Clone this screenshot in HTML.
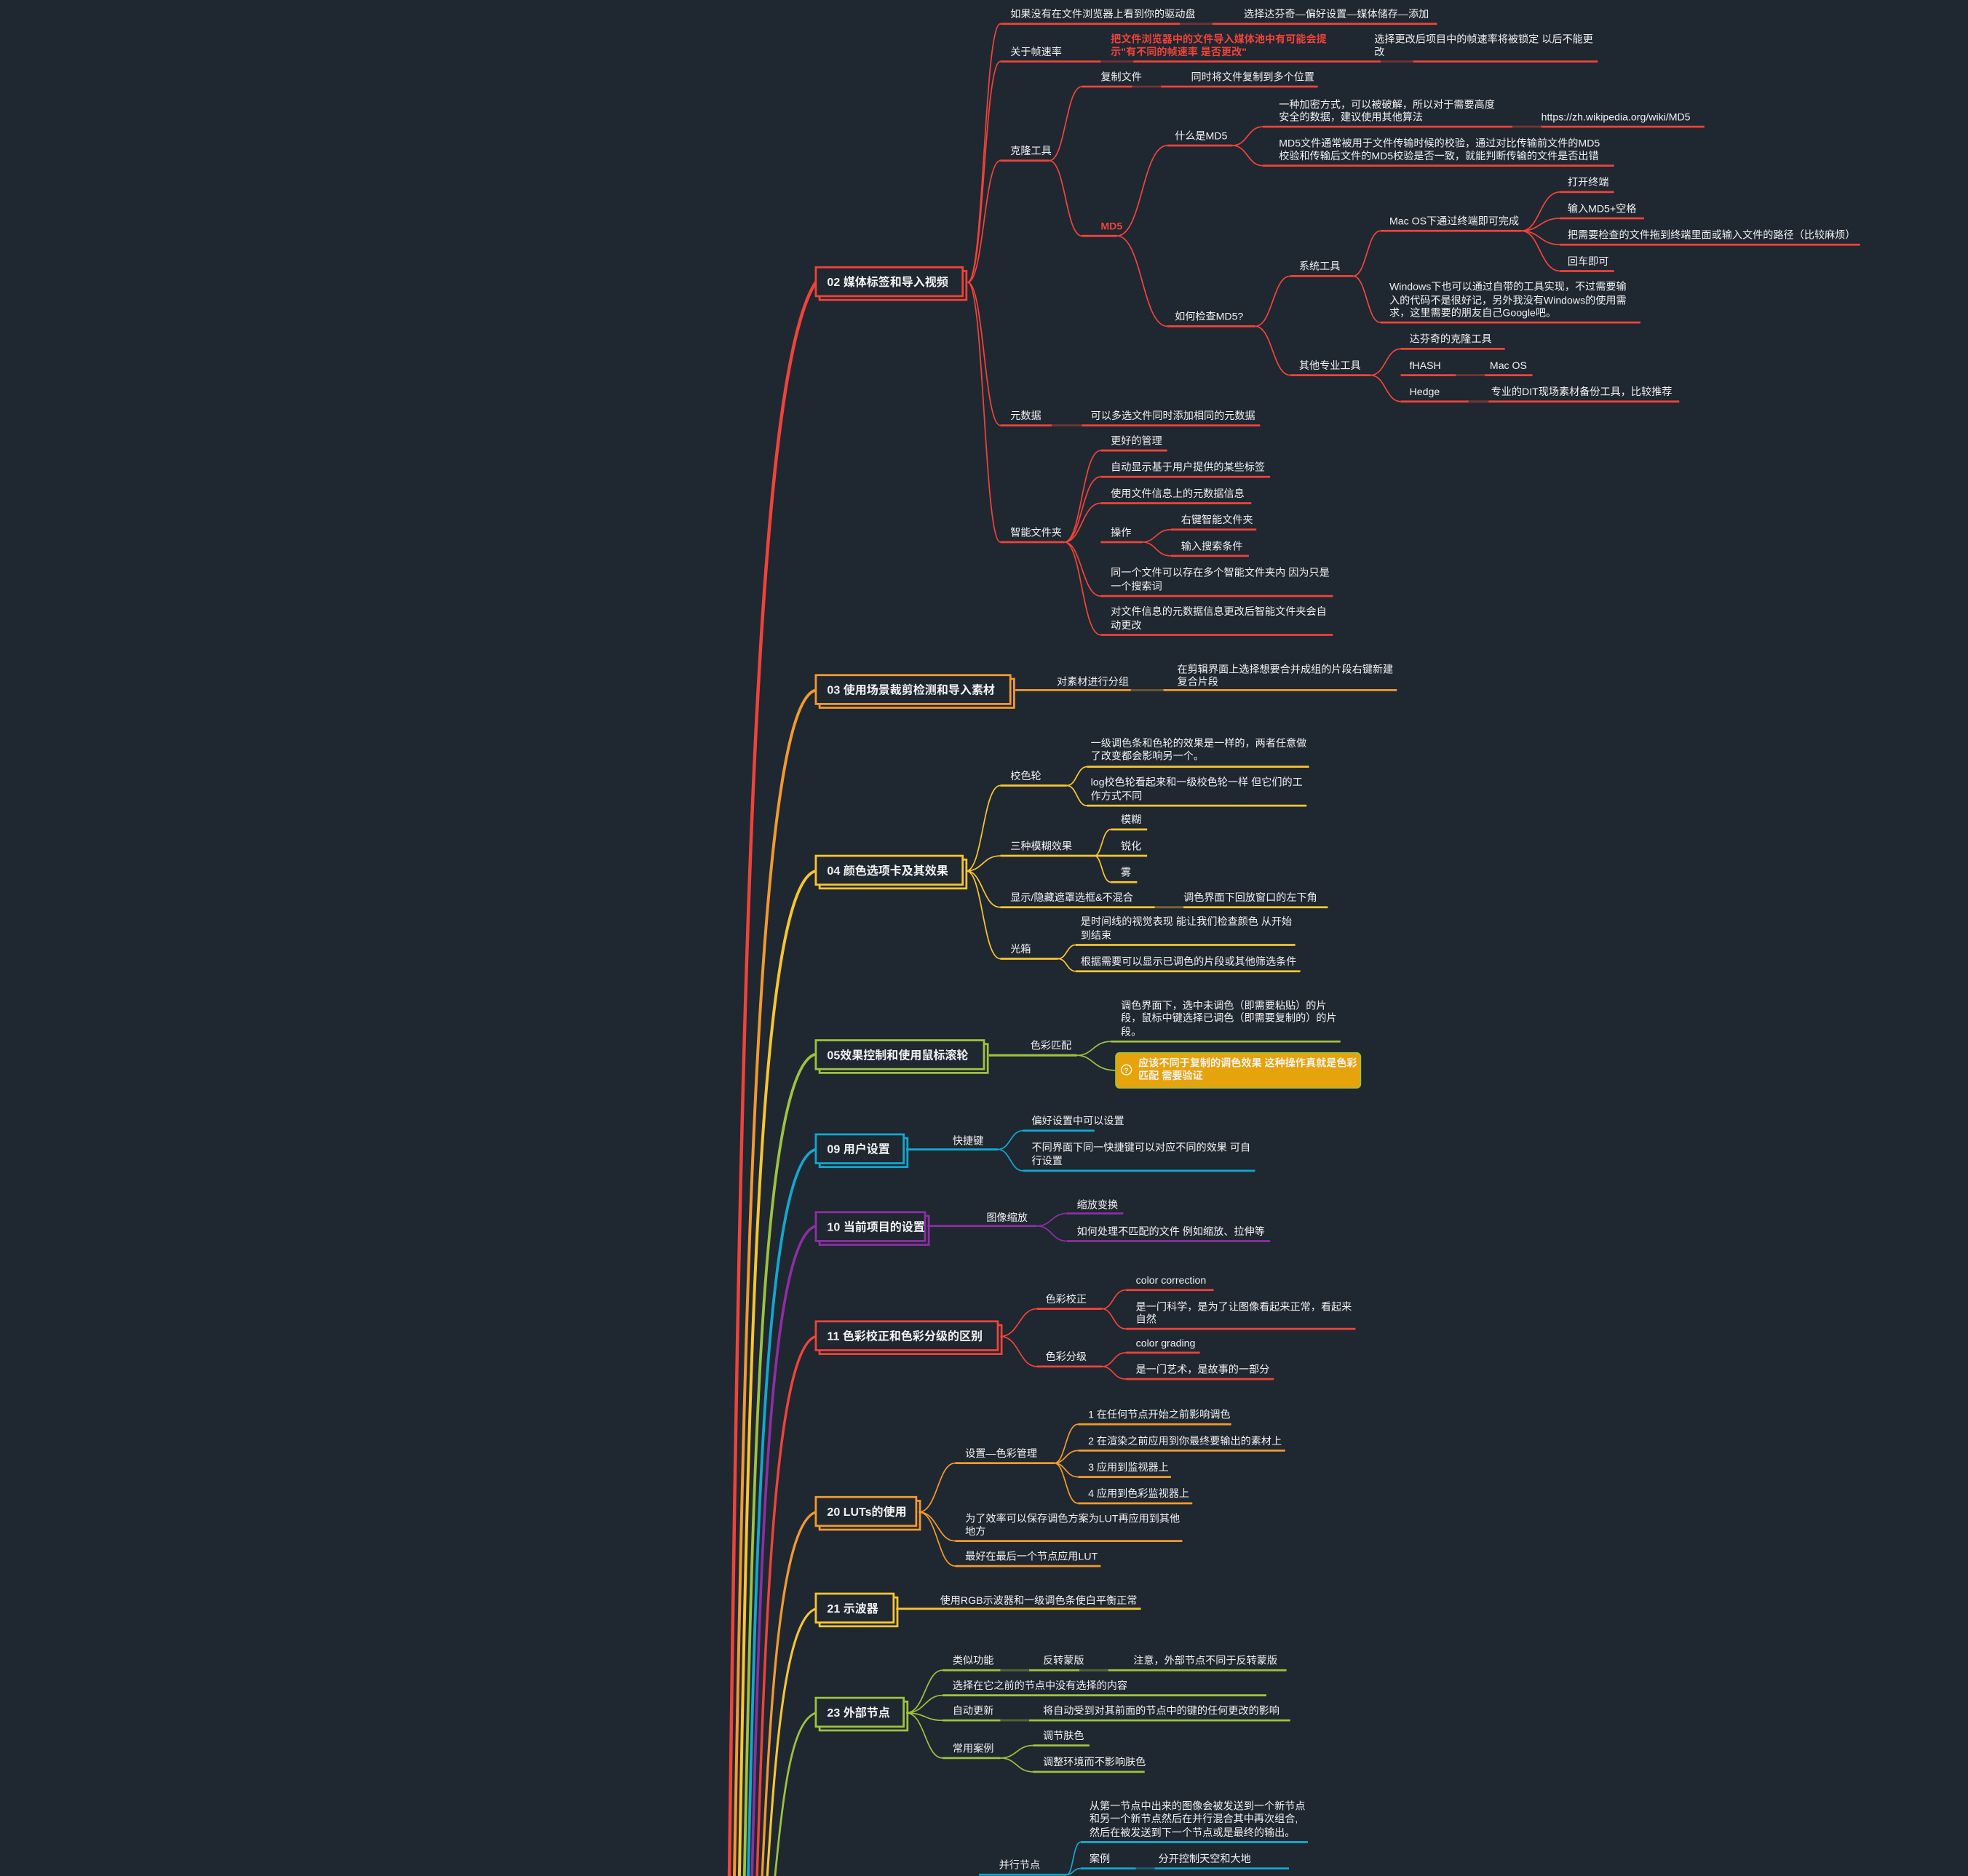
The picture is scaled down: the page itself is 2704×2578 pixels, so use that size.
<!DOCTYPE html>
<html><head><meta charset="utf-8"><style>
html,body{margin:0;padding:0;background:#1f2731;}
svg{display:block;}
text{font-family:"Liberation Sans","Noto Sans CJK SC",sans-serif;font-size:8.2px;fill:#f2f2f2;}
.t{font-size:9.3px;font-weight:bold;}
path,line{fill:none;}
</style></head><body>
<svg width="2704" height="2578" viewBox="0 0 1568 1495" xmlns="http://www.w3.org/2000/svg">
<rect width="1568" height="1495" fill="#1f2731"/>

<g fill="none" stroke-linecap="round">
<path d="M581 1500C590 800 600 300 650 225" stroke="#f0433a" stroke-width="2.6"/>
<path d="M585 1500C594 1000 604 560 650 550" stroke="#f39a2f" stroke-width="2.3"/>
<path d="M589 1500C597 1050 606 705 650 694" stroke="#f9c630" stroke-width="2.3"/>
<path d="M593 1500C600 1150 608 850 650 840" stroke="#9dc33e" stroke-width="2.2"/>
<path d="M596 1500C603 1200 611 925 650 916" stroke="#13a8cf" stroke-width="2.2"/>
<path d="M599 1500C606 1220 614 987 650 977" stroke="#8d2fa3" stroke-width="2.1"/>
<path d="M603 1500C610 1280 618 1074 650 1065" stroke="#f0433a" stroke-width="2"/>
<path d="M607 1500C614 1350 622 1214 650 1205" stroke="#f39a2f" stroke-width="1.9"/>
<path d="M611 1500C618 1390 626 1290 650 1282" stroke="#f9c630" stroke-width="1.8"/>
<path d="M617 1500C624 1430 630 1372 650 1365" stroke="#9dc33e" stroke-width="1.6"/>
</g>

<g stroke-width="1.6">
<rect x="653" y="216" width="117" height="23" fill="none" stroke="#f0433a"/>
<rect x="650" y="213" width="117" height="23" fill="#1f2731" stroke="#f0433a"/>
<rect x="653" y="541" width="155" height="23" fill="none" stroke="#f39a2f"/>
<rect x="650" y="538" width="155" height="23" fill="#1f2731" stroke="#f39a2f"/>
<rect x="653" y="685" width="117" height="23" fill="none" stroke="#f9c630"/>
<rect x="650" y="682" width="117" height="23" fill="#1f2731" stroke="#f9c630"/>
<rect x="653" y="832" width="134" height="23" fill="none" stroke="#9dc33e"/>
<rect x="650" y="829" width="134" height="23" fill="#1f2731" stroke="#9dc33e"/>
<rect x="653" y="907" width="70" height="23" fill="none" stroke="#13a8cf"/>
<rect x="650" y="904" width="70" height="23" fill="#1f2731" stroke="#13a8cf"/>
<rect x="653" y="969" width="87" height="23" fill="none" stroke="#8d2fa3"/>
<rect x="650" y="966" width="87" height="23" fill="#1f2731" stroke="#8d2fa3"/>
<rect x="653" y="1056" width="145" height="23" fill="none" stroke="#f0433a"/>
<rect x="650" y="1053" width="145" height="23" fill="#1f2731" stroke="#f0433a"/>
<rect x="653" y="1196" width="80" height="23" fill="none" stroke="#f39a2f"/>
<rect x="650" y="1193" width="80" height="23" fill="#1f2731" stroke="#f39a2f"/>
<rect x="653" y="1273" width="62" height="23" fill="none" stroke="#f9c630"/>
<rect x="650" y="1270" width="62" height="23" fill="#1f2731" stroke="#f9c630"/>
<rect x="653" y="1356" width="70" height="23" fill="none" stroke="#9dc33e"/>
<rect x="650" y="1353" width="70" height="23" fill="#1f2731" stroke="#9dc33e"/>
</g>
<text class="t" x="659" y="228">02 媒体标签和导入视频</text>
<text class="t" x="659" y="553">03 使用场景裁剪检测和导入素材</text>
<text class="t" x="659" y="697">04 颜色选项卡及其效果</text>
<text class="t" x="659" y="844">05效果控制和使用鼠标滚轮</text>
<text class="t" x="659" y="919">09 用户设置</text>
<text class="t" x="659" y="981">10 当前项目的设置</text>
<text class="t" x="659" y="1068">11 色彩校正和色彩分级的区别</text>
<text class="t" x="659" y="1208">20 LUTs的使用</text>
<text class="t" x="659" y="1285">21 示波器</text>
<text class="t" x="659" y="1368">23 外部节点</text>

<g stroke="#f0433a" stroke-width="1" fill="none">
<path d="M771 225C784 225 784 19 797 19"/>
<path d="M771 225C784 225 784 49 797 49"/>
<path d="M771 225C784 225 784 128 797 128"/>
<path d="M771 225C784 225 784 339 797 339"/>
<path d="M771 225C784 225 784 432 797 432"/>
<path d="M836 128C849 128 849 69 862 69"/>
<path d="M836 128C849 128 849 188 862 188"/>
<path d="M890 188C910 188 910 116 930 116"/>
<path d="M890 188C910 188 910 260 930 260"/>
<path d="M982 116C994 116 994 101 1006 101"/>
<path d="M982 116C994 116 994 132 1006 132"/>
<path d="M1000 260C1014 260 1014 220 1028 220"/>
<path d="M1000 260C1014 260 1014 299 1028 299"/>
<path d="M1078 220C1089 220 1089 184 1100 184"/>
<path d="M1078 220C1089 220 1089 257 1100 257"/>
<path d="M1212 184C1227 184 1227 153 1243 153"/>
<path d="M1212 184C1227 184 1227 174 1243 174"/>
<path d="M1212 184C1227 184 1227 195 1243 195"/>
<path d="M1212 184C1227 184 1227 216 1243 216"/>
<path d="M1092 299C1104 299 1104 278 1116 278"/>
<path d="M1092 299C1104 299 1104 320 1116 320"/>
<path d="M848 432C862 432 862 359 877 359"/>
<path d="M848 432C862 432 862 380 877 380"/>
<path d="M848 432C862 432 862 401 877 401"/>
<path d="M848 432C862 432 862 475 877 475"/>
<path d="M848 432C862 432 862 506 877 506"/>
<path d="M910 432C921 432 921 422 933 422"/>
<path d="M910 432C921 432 921 443 933 443"/>
</g>
<g stroke="#f0433a" stroke-width="1.6">
<line x1="797" y1="19" x2="1145" y2="19"/>
<line x1="797" y1="49" x2="1273" y2="49"/>
<line x1="797" y1="128" x2="836" y2="128"/>
<line x1="862" y1="69" x2="1050" y2="69"/>
<line x1="862" y1="188" x2="890" y2="188"/>
<line x1="930" y1="116" x2="982" y2="116"/>
<line x1="1006" y1="101" x2="1358" y2="101"/>
<line x1="1006" y1="132" x2="1286" y2="132"/>
<line x1="930" y1="260" x2="1000" y2="260"/>
<line x1="1028" y1="220" x2="1078" y2="220"/>
<line x1="1100" y1="184" x2="1212" y2="184"/>
<line x1="1243" y1="153" x2="1286" y2="153"/>
<line x1="1243" y1="174" x2="1310" y2="174"/>
<line x1="1243" y1="195" x2="1482" y2="195"/>
<line x1="1243" y1="216" x2="1286" y2="216"/>
<line x1="1100" y1="257" x2="1307" y2="257"/>
<line x1="1028" y1="299" x2="1092" y2="299"/>
<line x1="1116" y1="278" x2="1199" y2="278"/>
<line x1="1116" y1="299" x2="1221" y2="299"/>
<line x1="1116" y1="320" x2="1338" y2="320"/>
<line x1="797" y1="339" x2="1004" y2="339"/>
<line x1="797" y1="432" x2="848" y2="432"/>
<line x1="877" y1="359" x2="930" y2="359"/>
<line x1="877" y1="380" x2="1012" y2="380"/>
<line x1="877" y1="401" x2="997" y2="401"/>
<line x1="877" y1="432" x2="910" y2="432"/>
<line x1="933" y1="422" x2="1001" y2="422"/>
<line x1="933" y1="443" x2="995" y2="443"/>
<line x1="877" y1="475" x2="1062" y2="475"/>
<line x1="877" y1="506" x2="1062" y2="506"/>
</g>
<g stroke="#1f2731" stroke-width="1.7" opacity="0.6">
<line x1="940" y1="19" x2="966" y2="19"/>
<line x1="877" y1="49" x2="903" y2="49"/>
<line x1="1100" y1="49" x2="1126" y2="49"/>
<line x1="902" y1="69" x2="925" y2="69"/>
<line x1="1205" y1="101" x2="1228" y2="101"/>
<line x1="1160" y1="299" x2="1183" y2="299"/>
<line x1="1170" y1="320" x2="1186" y2="320"/>
<line x1="838" y1="339" x2="862" y2="339"/>
</g>
<text x="805" y="14">如果没有在文件浏览器上看到你的驱动盘</text>
<text x="991" y="14">选择达芬奇—偏好设置—媒体储存—添加</text>
<text x="805" y="44">关于帧速率</text>
<text x="885" y="34" style="fill:#f0433a;font-weight:bold">把文件浏览器中的文件导入媒体池中有可能会提</text>
<text x="885" y="44" style="fill:#f0433a;font-weight:bold">示"有不同的帧速率 是否更改"</text>
<text x="1095" y="34">选择更改后项目中的帧速率将被锁定 以后不能更</text>
<text x="1095" y="44">改</text>
<text x="805" y="123">克隆工具</text>
<text x="877" y="64">复制文件</text>
<text x="949" y="64">同时将文件复制到多个位置</text>
<text x="877" y="183" style="fill:#f0433a;font-weight:bold">MD5</text>
<text x="936" y="111">什么是MD5</text>
<text x="1019" y="86">一种加密方式，可以被破解，所以对于需要高度</text>
<text x="1019" y="96">安全的数据，建议使用其他算法</text>
<text x="1228" y="96">https://zh.wikipedia.org/wiki/MD5</text>
<text x="1019" y="117">MD5文件通常被用于文件传输时候的校验，通过对比传输前文件的MD5</text>
<text x="1019" y="127">校验和传输后文件的MD5校验是否一致，就能判断传输的文件是否出错</text>
<text x="936" y="255">如何检查MD5?</text>
<text x="1035" y="215">系统工具</text>
<text x="1107" y="179">Mac OS下通过终端即可完成</text>
<text x="1249" y="148">打开终端</text>
<text x="1249" y="169">输入MD5+空格</text>
<text x="1249" y="190">把需要检查的文件拖到终端里面或输入文件的路径（比较麻烦）</text>
<text x="1249" y="211">回车即可</text>
<text x="1107" y="231">Windows下也可以通过自带的工具实现，不过需要输</text>
<text x="1107" y="242">入的代码不是很好记，另外我没有Windows的使用需</text>
<text x="1107" y="252">求，这里需要的朋友自己Google吧。</text>
<text x="1035" y="294">其他专业工具</text>
<text x="1123" y="273">达芬奇的克隆工具</text>
<text x="1123" y="294">fHASH</text>
<text x="1187" y="294">Mac OS</text>
<text x="1123" y="315">Hedge</text>
<text x="1188" y="315">专业的DIT现场素材备份工具，比较推荐</text>
<text x="805" y="334">元数据</text>
<text x="869" y="334">可以多选文件同时添加相同的元数据</text>
<text x="805" y="427">智能文件夹</text>
<text x="885" y="354">更好的管理</text>
<text x="885" y="375">自动显示基于用户提供的某些标签</text>
<text x="885" y="396">使用文件信息上的元数据信息</text>
<text x="885" y="427">操作</text>
<text x="941" y="417">右键智能文件夹</text>
<text x="941" y="438">输入搜索条件</text>
<text x="885" y="459">同一个文件可以存在多个智能文件夹内 因为只是</text>
<text x="885" y="470">一个搜索词</text>
<text x="885" y="490">对文件信息的元数据信息更改后智能文件夹会自</text>
<text x="885" y="501">动更改</text>

<line x1="809" y1="550" x2="1113" y2="550" stroke="#f39a2f" stroke-width="1.6"/>
<line x1="901" y1="550" x2="927" y2="550" stroke="#1f2731" stroke-width="1.7" opacity="0.6"/>
<text x="842" y="546">对素材进行分组</text>
<text x="938" y="536">在剪辑界面上选择想要合并成组的片段右键新建</text>
<text x="938" y="546">复合片段</text>

<g stroke="#f9c630" stroke-width="1" fill="none">
<path d="M770 694C783 694 783 626 797 626"/>
<path d="M770 694C783 694 783 682 797 682"/>
<path d="M770 694C783 694 783 723 797 723"/>
<path d="M770 694C783 694 783 764 797 764"/>
<path d="M850 626C858 626 858 611 866 611"/>
<path d="M850 626C858 626 858 642 866 642"/>
<path d="M872 682C878 682 878 661 885 661"/>
<path d="M872 682C878 682 878 703 885 703"/>
<path d="M843 764C850 764 850 753 857 753"/>
<path d="M843 764C850 764 850 774 857 774"/>
</g>
<g stroke="#f9c630" stroke-width="1.6">
<line x1="797" y1="626" x2="850" y2="626"/>
<line x1="866" y1="611" x2="1043" y2="611"/>
<line x1="866" y1="642" x2="1041" y2="642"/>
<line x1="797" y1="682" x2="885" y2="682"/>
<line x1="885" y1="661" x2="914" y2="661"/>
<line x1="885" y1="682" x2="914" y2="682"/>
<line x1="885" y1="703" x2="906" y2="703"/>
<line x1="797" y1="723" x2="1058" y2="723"/>
<line x1="797" y1="764" x2="843" y2="764"/>
<line x1="857" y1="753" x2="1032" y2="753"/>
<line x1="857" y1="774" x2="1036" y2="774"/>
</g>
<line x1="920" y1="723" x2="943" y2="723" stroke="#1f2731" stroke-width="1.7" opacity="0.6"/>
<text x="805" y="621">校色轮</text>
<text x="869" y="595">一级调色条和色轮的效果是一样的，两者任意做</text>
<text x="869" y="605">了改变都会影响另一个。</text>
<text x="869" y="626">log校色轮看起来和一级校色轮一样 但它们的工</text>
<text x="869" y="637">作方式不同</text>
<text x="805" y="677">三种模糊效果</text>
<text x="893" y="656">模糊</text>
<text x="893" y="677">锐化</text>
<text x="893" y="698">雾</text>
<text x="805" y="718">显示/隐藏遮罩选框&amp;不混合</text>
<text x="943" y="718">调色界面下回放窗口的左下角</text>
<text x="805" y="759">光箱</text>
<text x="861" y="737">是时间线的视觉表现 能让我们检查颜色 从开始</text>
<text x="861" y="748">到结束</text>
<text x="861" y="769">根据需要可以显示已调色的片段或其他筛选条件</text>

<g stroke="#9dc33e" stroke-width="1" fill="none">
<path d="M858 841C871 841 871 830 885 830"/>
<path d="M858 841C871 841 871 853 889 853"/>
</g>
<line x1="788" y1="841" x2="858" y2="841" stroke="#9dc33e" stroke-width="1.8"/>
<line x1="885" y1="830" x2="1068" y2="830" stroke="#9dc33e" stroke-width="1.6"/>
<text x="821" y="836">色彩匹配</text>
<text x="893" y="804">调色界面下，选中未调色（即需要粘贴）的片</text>
<text x="893" y="814">段，鼠标中键选择已调色（即需要复制的）的片</text>
<text x="893" y="825">段。</text>
<rect x="889" y="839" width="195" height="28" rx="3" fill="#e6a30c" stroke="#9dc33e" stroke-width="1"/>
<circle cx="897.5" cy="852.5" r="4" fill="none" stroke="#fff" stroke-width="0.8"/>
<text x="895.5" y="855" style="font-size:6px;font-weight:bold">?</text>
<text x="907" y="850" style="font-weight:bold">应该不同于复制的调色效果 这种操作真就是色彩</text>
<text x="907" y="860" style="font-weight:bold">匹配 需要验证</text>

<g stroke="#13a8cf" stroke-width="1" fill="none">
<path d="M795 916C805 916 805 901 815 901"/>
<path d="M795 916C805 916 805 933 815 933"/>
</g>
<g stroke="#13a8cf" stroke-width="1.6">
<line x1="722" y1="916" x2="795" y2="916"/>
<line x1="815" y1="901" x2="872" y2="901"/>
<line x1="815" y1="933" x2="1000" y2="933"/>
</g>
<text x="759" y="912">快捷键</text>
<text x="822" y="896">偏好设置中可以设置</text>
<text x="822" y="917">不同界面下同一快捷键可以对应不同的效果 可自</text>
<text x="822" y="928">行设置</text>

<g stroke="#8d2fa3" stroke-width="1" fill="none">
<path d="M826 977C838 977 838 967 850 967"/>
<path d="M826 977C838 977 838 989 850 989"/>
</g>
<g stroke="#8d2fa3" stroke-width="1.6">
<line x1="739" y1="977" x2="826" y2="977"/>
<line x1="850" y1="967" x2="895" y2="967"/>
<line x1="850" y1="989" x2="1012" y2="989"/>
</g>
<text x="786" y="973">图像缩放</text>
<text x="858" y="963">缩放变换</text>
<text x="858" y="984">如何处理不匹配的文件 例如缩放、拉伸等</text>

<g stroke="#f0433a" stroke-width="1" fill="none">
<path d="M797 1065C812 1065 812 1043 826 1043"/>
<path d="M797 1065C812 1065 812 1089 826 1089"/>
<path d="M878 1043C887 1043 887 1028 897 1028"/>
<path d="M878 1043C887 1043 887 1059 897 1059"/>
<path d="M878 1089C887 1089 887 1078 897 1078"/>
<path d="M878 1089C887 1089 887 1099 897 1099"/>
</g>
<g stroke="#f0433a" stroke-width="1.6">
<line x1="826" y1="1043" x2="878" y2="1043"/>
<line x1="826" y1="1089" x2="878" y2="1089"/>
<line x1="897" y1="1028" x2="967" y2="1028"/>
<line x1="897" y1="1059" x2="1080" y2="1059"/>
<line x1="897" y1="1078" x2="956" y2="1078"/>
<line x1="897" y1="1099" x2="1015" y2="1099"/>
</g>
<text x="833" y="1038">色彩校正</text>
<text x="833" y="1084">色彩分级</text>
<text x="905" y="1023">color correction</text>
<text x="905" y="1044">是一门科学，是为了让图像看起来正常，看起来</text>
<text x="905" y="1054">自然</text>
<text x="905" y="1073">color grading</text>
<text x="905" y="1094">是一门艺术，是故事的一部分</text>

<g stroke="#f39a2f" stroke-width="1" fill="none">
<path d="M732 1205C747 1205 747 1166 761 1166"/>
<path d="M732 1205C747 1205 747 1228 761 1228"/>
<path d="M732 1205C747 1205 747 1248 761 1248"/>
<path d="M840 1166C849 1166 849 1135 859 1135"/>
<path d="M840 1166C849 1166 849 1156 859 1156"/>
<path d="M840 1166C849 1166 849 1177 859 1177"/>
<path d="M840 1166C849 1166 849 1198 859 1198"/>
</g>
<g stroke="#f39a2f" stroke-width="1.6">
<line x1="761" y1="1166" x2="840" y2="1166"/>
<line x1="859" y1="1135" x2="981" y2="1135"/>
<line x1="859" y1="1156" x2="1024" y2="1156"/>
<line x1="859" y1="1177" x2="933" y2="1177"/>
<line x1="859" y1="1198" x2="950" y2="1198"/>
<line x1="761" y1="1228" x2="942" y2="1228"/>
<line x1="761" y1="1248" x2="877" y2="1248"/>
</g>
<text x="769" y="1161">设置—色彩管理</text>
<text x="867" y="1130">1 在任何节点开始之前影响调色</text>
<text x="867" y="1151">2 在渲染之前应用到你最终要输出的素材上</text>
<text x="867" y="1172">3 应用到监视器上</text>
<text x="867" y="1193">4 应用到色彩监视器上</text>
<text x="769" y="1213">为了效率可以保存调色方案为LUT再应用到其他</text>
<text x="769" y="1223">地方</text>
<text x="769" y="1243">最好在最后一个节点应用LUT</text>

<line x1="714" y1="1282" x2="909" y2="1282" stroke="#f9c630" stroke-width="1.6"/>
<text x="749" y="1278">使用RGB示波器和一级调色条使白平衡正常</text>

<g stroke="#9dc33e" stroke-width="1" fill="none">
<path d="M722 1365C737 1365 737 1331 751 1331"/>
<path d="M722 1365C737 1365 737 1351 751 1351"/>
<path d="M722 1365C737 1365 737 1371 751 1371"/>
<path d="M722 1365C737 1365 737 1401 751 1401"/>
<path d="M797 1401C810 1401 810 1391 823 1391"/>
<path d="M797 1401C810 1401 810 1412 823 1412"/>
</g>
<g stroke="#9dc33e" stroke-width="1.6">
<line x1="751" y1="1331" x2="1025" y2="1331"/>
<line x1="751" y1="1351" x2="1009" y2="1351"/>
<line x1="751" y1="1371" x2="1028" y2="1371"/>
<line x1="751" y1="1401" x2="797" y2="1401"/>
<line x1="823" y1="1391" x2="868" y2="1391"/>
<line x1="823" y1="1412" x2="912" y2="1412"/>
</g>
<g stroke="#1f2731" stroke-width="1.7" opacity="0.6">
<line x1="797" y1="1331" x2="820" y2="1331"/>
<line x1="860" y1="1331" x2="883" y2="1331"/>
<line x1="797" y1="1371" x2="820" y2="1371"/>
</g>
<text x="759" y="1326">类似功能</text>
<text x="831" y="1326">反转蒙版</text>
<text x="903" y="1326">注意，外部节点不同于反转蒙版</text>
<text x="759" y="1346">选择在它之前的节点中没有选择的内容</text>
<text x="759" y="1366">自动更新</text>
<text x="831" y="1366">将自动受到对其前面的节点中的键的任何更改的影响</text>
<text x="759" y="1396">常用案例</text>
<text x="831" y="1386">调节肤色</text>
<text x="831" y="1407">调整环境而不影响肤色</text>

<g stroke="#13a8cf" stroke-width="1" fill="none">
<path d="M850 1494C855 1494 855 1468 861 1468"/>
<path d="M850 1494C855 1494 855 1489 861 1489"/>
</g>
<g stroke="#13a8cf" stroke-width="1.6">
<line x1="780" y1="1494" x2="850" y2="1494"/>
<line x1="861" y1="1468" x2="1042" y2="1468"/>
<line x1="861" y1="1489" x2="1027" y2="1489"/>
</g>
<line x1="905" y1="1489" x2="920" y2="1489" stroke="#1f2731" stroke-width="1.7" opacity="0.6"/>
<text x="796" y="1489">并行节点</text>
<text x="868" y="1442">从第一节点中出来的图像会被发送到一个新节点</text>
<text x="868" y="1452">和另一个新节点然后在并行混合其中再次组合,</text>
<text x="868" y="1463">然后在被发送到下一个节点或是最终的输出。</text>
<text x="868" y="1484">案例</text>
<text x="923" y="1484">分开控制天空和大地</text>
</svg>
</body></html>
